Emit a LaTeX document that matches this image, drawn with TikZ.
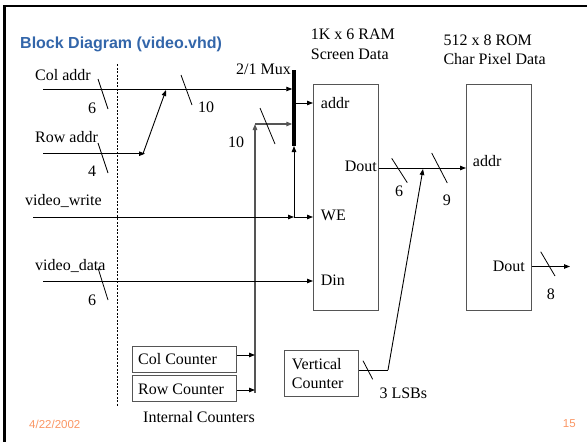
\documentclass[tikz,border=0pt]{standalone}
\usepackage{fontspec}
\setmainfont{Liberation Serif}
\newfontfamily\arialfont{Liberation Sans}
\usetikzlibrary{arrows.meta}
\definecolor{titleblue}{RGB}{51,102,170}
\definecolor{footorange}{RGB}{250,150,100}
\definecolor{boxgray}{RGB}{85,85,85}
\begin{document}
\begin{tikzpicture}[x=1pt,y=-1pt,
  lbl/.style={anchor=base west, inner sep=0pt, font=\fontsize{16}{16}\selectfont},
  wire/.style={line width=0.9pt},
  arr/.style={wire, -{Triangle[length=6pt,width=4.5pt]}},
  gwire/.style={line width=1.3pt, draw=boxgray},
  slash/.style={line width=0.8pt},
  box/.style={draw=boxgray, line width=1.2pt, inner sep=0pt, anchor=north west}]
\useasboundingbox (0,0) rectangle (587,442);
% frame
\draw[line width=2.5pt] (4.5,442) -- (4.5,6) -- (587,6);
% title
\node[anchor=base west, inner sep=0pt, font=\arialfont\bfseries\fontsize{16}{16}\selectfont, text=titleblue] (title) at (20,48) {Block Diagram (video.vhd)};
% dashed separator
\coordinate (dashtop) at (117,64);
\coordinate (dashbot) at (117,407);
\draw[line width=0.7pt, dash pattern=on 2pt off 1.5pt] (dashtop) -- (dashbot);
% blocks
\node[fill=black, minimum width=3.5pt, minimum height=76pt, inner sep=0pt, outer sep=0pt] (mux) at (294,108) {};
\node[box, minimum width=65pt, minimum height=226pt] (ram) at (313,84) {};
\node[box, minimum width=65pt, minimum height=226pt] (rom) at (466,84) {};
\node[box, minimum width=74pt, minimum height=46pt] (vc) at (284,350) {};
\node[box, minimum width=104pt, minimum height=26pt] (cc) at (132,346) {};
\node[box, minimum width=104pt, minimum height=26pt] (rc) at (132,375) {};
% coordinates
\coordinate (colL) at (43,89);
\coordinate (rowL) at (43,153.7);
\coordinate (rowR) at (145,153.7);
\coordinate (diagB) at (143,153.7);
\coordinate (diagT) at (166,90);
\coordinate (busB) at (255,393);
\coordinate (busT) at (255,124);
\coordinate (wrL) at (33,217);
\coordinate (wrJ) at (294,217);
\coordinate (addrY) at (0,103);
\coordinate (dataL) at (43,281);
\coordinate (doutY) at (0,168);
\coordinate (vcY) at (0,370);
\coordinate (bend) at (388,370);
\coordinate (junc) at (423,169);
\coordinate (rdY) at (0,266.5);
\coordinate (rdEnd) at (570,266.5);
\coordinate (ccY) at (0,355);
\coordinate (rcY) at (0,390);
% wires
\draw[arr] (colL) -- (mux.west |- colL);
\draw[arr] (rowL) -- (rowR);
\draw[arr] (diagB) -- (diagT);
\draw[arr, gwire] (busB) -- (busT);
\draw[arr, gwire] (busT) -- (mux.west |- busT);
\draw[arr] (wrL) -- (wrJ);
\draw[arr] (wrJ) -- (ram.west |- wrJ);
\draw[arr] (wrJ) -- (mux.south);
\draw[arr] (mux.east |- addrY) -- (ram.west |- addrY);
\draw[arr] (dataL) -- (ram.west |- dataL);
\draw[arr] (ram.east |- doutY) -- (rom.west |- doutY);
\draw[wire] (vc.east |- vcY) -- (bend);
\draw[arr] (bend) -- (junc);
\draw[arr] (rom.east |- rdY) -- (rdEnd);
\draw[arr] (cc.east |- ccY) -- (busB |- ccY);
\draw[arr] (rc.east |- rcY) -- (busB |- rcY);
% bus width slashes
\draw[slash] (98,79) -- (108,109);
\draw[slash] (98,143) -- (108,173);
\draw[slash] (98,268) -- (108,300);
\draw[slash] (181,75) -- (192,105);
\draw[slash] (260,108) -- (275,144);
\draw[slash] (391.7,158.3) -- (407.3,182.7);
\draw[slash] (431.7,153) -- (447.3,183);
\draw[slash] (363,360.7) -- (372.7,379.3);
\draw[slash] (540.7,251.7) -- (555,276);
% labels
\node[lbl] (tcol) at (35,80) {Col addr};
\node[lbl] (n6a) at (88,113) {6};
\node[lbl] (trow) at (35,142.7) {Row addr};
\node[lbl] (n4) at (88,176.7) {4};
\node[lbl] (twr) at (25,205) {video\_write};
\node[lbl] (n10a) at (198,112.7) {10};
\node[lbl] (n10b) at (228,147.7) {10};
\node[lbl] (tmux) at (236,74) {2/1 Mux};
\node[lbl] (tdata) at (35,270.7) {video\_data};
\node[lbl] (n6c) at (88,305) {6};
\node[lbl] (tcc) at (138,364) {Col Counter};
\node[lbl] (trc) at (138,394) {Row Counter};
\node[lbl] (tic) at (143,422.7) {Internal Counters};
\node[lbl] (tram1) at (310.7,39.3) {1K x 6 RAM};
\node[lbl] (tram2) at (310.7,59.3) {Screen Data};
\node[lbl] (trom1) at (443.3,45) {512 x 8 ROM};
\node[lbl] (trom2) at (443.3,64) {Char Pixel Data};
\node[lbl] (taddr) at (320.7,108.3) {addr};
\node[lbl] (twe) at (320.7,220.7) {WE};
\node[lbl] (tdin) at (320.7,285) {Din};
\node[lbl, anchor=base east] (tdout) at (377,171.7) {Dout};
\node[lbl] (n6b) at (395,196.7) {6};
\node[lbl] (n9) at (442.7,205) {9};
\node[lbl] (traddr) at (472.7,166.7) {addr};
\node[lbl, anchor=base east] (trdout) at (525,271) {Dout};
\node[lbl] (n8) at (546.7,299.3) {8};
\node[lbl] (tvc1) at (291.7,369.3) {Vertical};
\node[lbl] (tvc2) at (291.7,388.7) {Counter};
\node[lbl] (tlsb) at (379.3,398.7) {3 LSBs};
% footer
\node[anchor=base west, inner sep=0pt, font=\arialfont\fontsize{11.5}{11.5}\selectfont, text=footorange] (date) at (29,428.3) {4/22/2002};
\node[anchor=base west, inner sep=0pt, font=\arialfont\fontsize{11.5}{11.5}\selectfont, text=footorange] (page) at (562.7,427.7) {15};
\end{tikzpicture}
\end{document}
